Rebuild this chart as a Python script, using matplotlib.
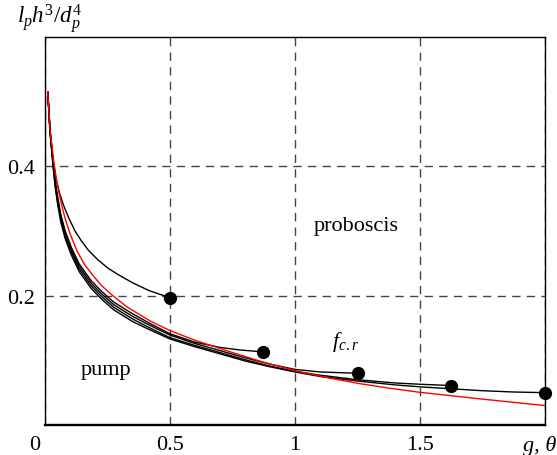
import matplotlib
matplotlib.use('Agg')
import matplotlib.pyplot as plt
import matplotlib.transforms as mtransforms

plt.rcParams['font.family'] = ['Liberation Serif', 'DejaVu Serif']
plt.rcParams['mathtext.fontset'] = 'custom'
plt.rcParams['mathtext.rm'] = 'Liberation Serif'
plt.rcParams['mathtext.it'] = 'Liberation Serif:italic'

# curves (x = g, theta ; y = l_p h^3 / d_p^4)
x_c1 = [0.011, 0.02, 0.033, 0.045, 0.06, 0.075, 0.094, 0.12, 0.145, 0.174, 0.21, 0.25, 0.295, 0.35, 0.415, 0.46, 0.5]
y_c1 = [0.515, 0.456, 0.406, 0.379, 0.356, 0.339, 0.321, 0.300, 0.285, 0.270, 0.256, 0.243, 0.232, 0.220, 0.208, 0.202, 0.197]

x_c2 = [0.011, 0.02, 0.033, 0.041, 0.051, 0.063, 0.08, 0.105, 0.137, 0.185, 0.228, 0.275, 0.35, 0.42, 0.5, 0.6, 0.7, 0.78, 0.873]
y_c2 = [0.515, 0.457, 0.404, 0.377, 0.352, 0.326, 0.301, 0.275, 0.249, 0.223, 0.206, 0.190, 0.172, 0.157, 0.141, 0.128, 0.120, 0.116, 0.113]

x_c3 = [0.011, 0.02, 0.033, 0.041, 0.051, 0.063, 0.08, 0.105, 0.137, 0.185, 0.228, 0.275, 0.35, 0.42, 0.5, 0.6, 0.7, 0.8, 0.9, 1.0, 1.1, 1.25]
y_c3 = [0.515, 0.456, 0.401, 0.374, 0.348, 0.322, 0.297, 0.271, 0.245, 0.219, 0.202, 0.186, 0.168, 0.154, 0.139, 0.126, 0.115, 0.104, 0.094, 0.086, 0.082, 0.080]

x_c4 = [0.011, 0.02, 0.033, 0.041, 0.051, 0.063, 0.08, 0.105, 0.137, 0.185, 0.228, 0.275, 0.35, 0.42, 0.5, 0.6, 0.7, 0.8, 0.9, 1.0, 1.1, 1.25, 1.4, 1.5, 1.625]
y_c4 = [0.515, 0.454, 0.399, 0.370, 0.344, 0.318, 0.293, 0.267, 0.241, 0.215, 0.198, 0.182, 0.164, 0.150, 0.135, 0.123, 0.112, 0.101, 0.091, 0.083, 0.077, 0.070, 0.065, 0.063, 0.061]

x_c5 = [0.011, 0.02, 0.033, 0.041, 0.051, 0.063, 0.08, 0.105, 0.137, 0.185, 0.228, 0.275, 0.35, 0.42, 0.5, 0.6, 0.7, 0.8, 0.9, 1.0, 1.1, 1.25, 1.4, 1.5, 1.625, 1.75, 1.875, 2.0]
y_c5 = [0.515, 0.453, 0.397, 0.367, 0.340, 0.314, 0.289, 0.263, 0.237, 0.211, 0.194, 0.178, 0.160, 0.147, 0.133, 0.121, 0.110, 0.099, 0.090, 0.082, 0.075, 0.068, 0.062, 0.059, 0.056, 0.053, 0.051, 0.050]

# red curve f_c.r
x_red = [0.011, 0.02, 0.036, 0.05, 0.065, 0.08, 0.1, 0.127, 0.155, 0.188, 0.225, 0.268, 0.33, 0.42, 0.5, 0.6, 0.75, 0.875, 1.0, 1.125, 1.25, 1.375, 1.5, 1.75, 2.0]
y_red = [0.515, 0.457, 0.405, 0.370, 0.343, 0.320, 0.296, 0.270, 0.250, 0.233, 0.216, 0.201, 0.182, 0.161, 0.146, 0.131, 0.112, 0.097, 0.084, 0.0735, 0.0645, 0.057, 0.0505, 0.040, 0.030]

# end points (dots)
x_dots = [0.5, 0.873, 1.25, 1.625, 2.0]
y_dots = [0.197, 0.113, 0.080, 0.061, 0.050]

x_ticks = [0, 0.5, 1, 1.5, 2]
x_ticklabels = ['0', '0.5', '1', '1.5', 'g, θ']
y_ticks = [0.2, 0.4]
y_ticklabels = ['0.2', '0.4']

fig = plt.figure(figsize=(5.57, 4.56), dpi=100)
ax = fig.add_axes([0.0808, 0.0658, 0.8977, 0.8509])

for xs, ys in [(x_c1, y_c1), (x_c2, y_c2), (x_c3, y_c3), (x_c4, y_c4), (x_c5, y_c5)]:
    ax.plot(xs, ys, color='black', lw=1.0, zorder=3)
ax.plot(x_red, y_red, color='#ff0000', lw=1.0, zorder=4)
ax.plot(x_dots, y_dots, 'o', color='black', ms=8.5, zorder=5, clip_on=False)

ax.set_xlim(0, 2)
ax.set_ylim(0, 0.6)
ax.set_xticks(x_ticks)
ax.set_xticklabels(x_ticklabels)
ax.set_yticks(y_ticks)
ax.set_yticklabels(y_ticklabels)
ax.tick_params(length=0, labelsize=16, pad=7)
ax.xaxis.get_ticklabels()[-1].set_fontstyle('italic')
# origin label sits a bit left of the corner, last label a bit left of the edge
off = mtransforms.ScaledTranslation(-10 / 100, 0, fig.dpi_scale_trans)
lab0 = ax.xaxis.get_ticklabels()[0]
lab0.set_transform(lab0.get_transform() + off)
offr = mtransforms.ScaledTranslation(-5 / 100, 0, fig.dpi_scale_trans)
labn = ax.xaxis.get_ticklabels()[-1]
labn.set_transform(labn.get_transform() + offr)

ax.grid(True, color='#444444', lw=1.0, linestyle=(0, (6, 4.5)))
for s in ['left', 'top', 'right']:
    ax.spines[s].set_linewidth(1.0)
ax.spines['bottom'].set_linewidth(1.7)

ax.text(-0.056, 1.005, r'$l_p h^3/d_p^4$', transform=ax.transAxes, fontsize=16.5,
        ha='left', va='bottom')
ax.text(1.245, 0.301, 'proboscis', fontsize=16, ha='center', va='baseline')
ax.text(0.242, 0.079, 'pump', fontsize=16, ha='center', va='baseline')
ax.text(1.146, 0.122, r'$f_{c.r}$', fontsize=16, ha='left', va='baseline')

fig.savefig('out.png', dpi=100)
